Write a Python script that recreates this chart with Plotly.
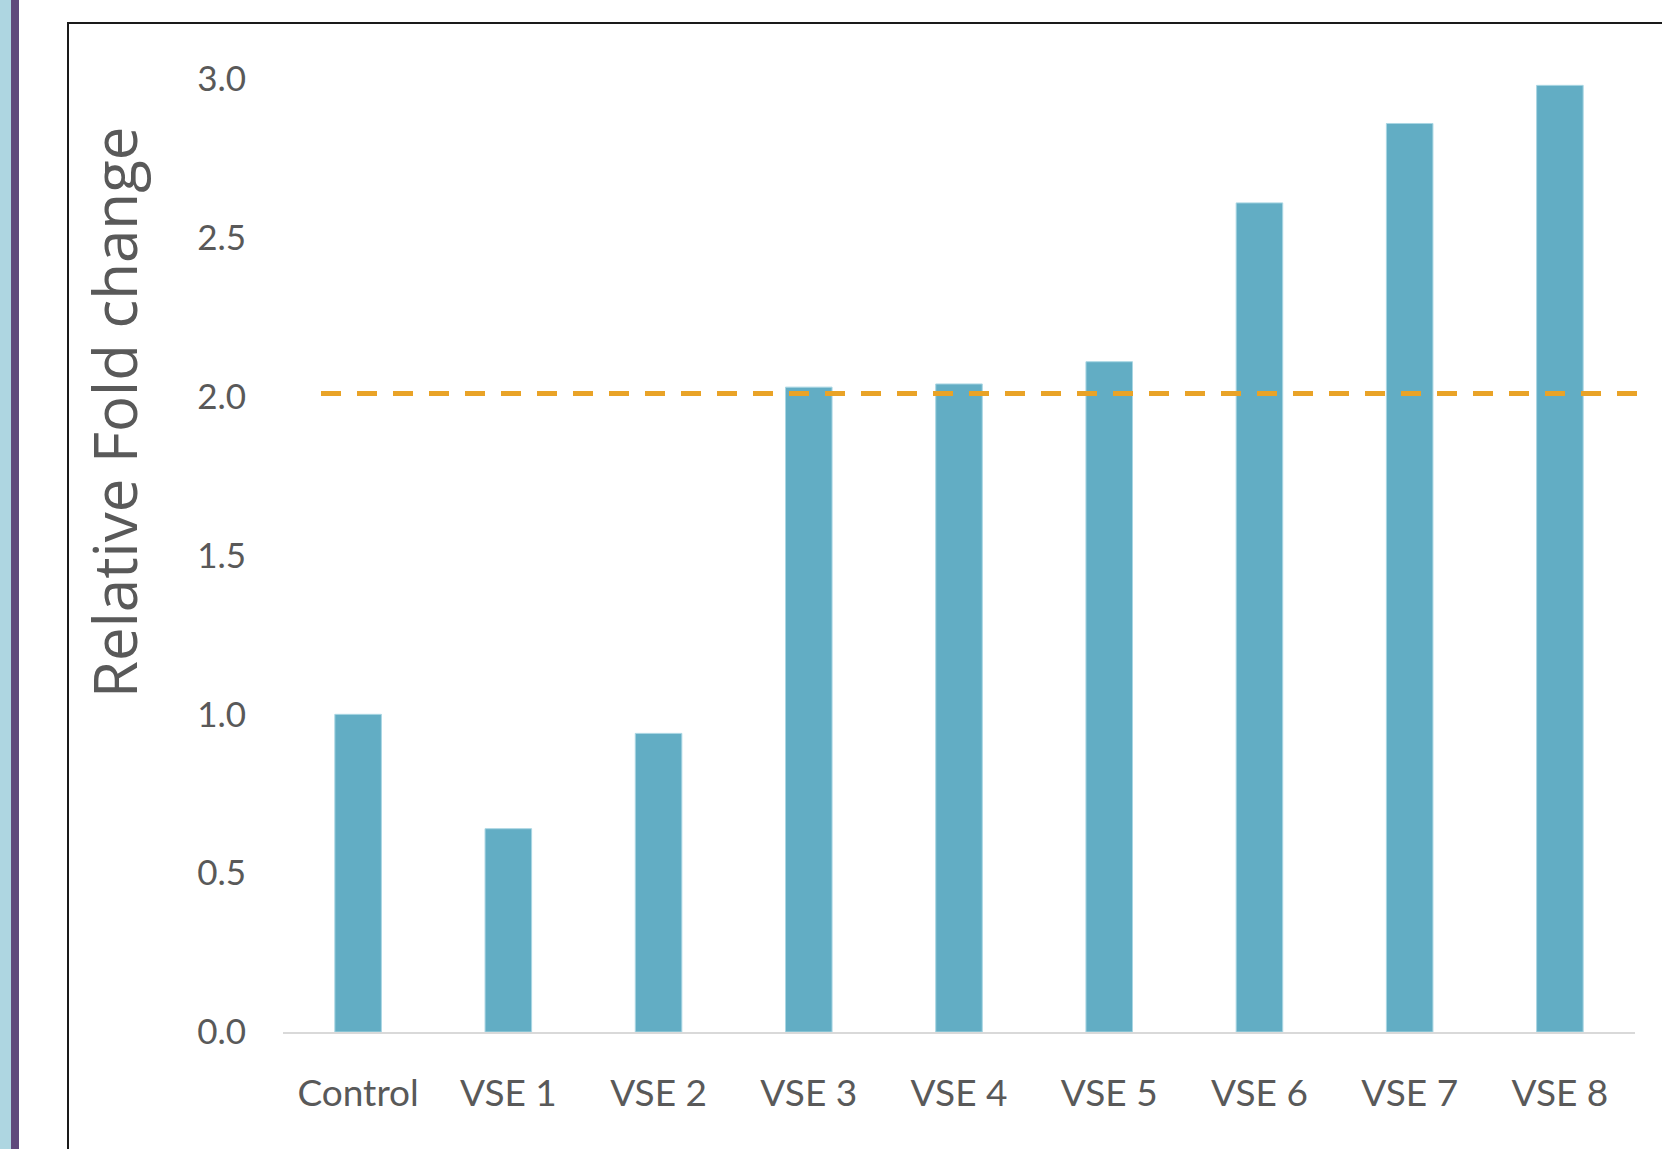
import plotly.graph_objects as go

# Relative fold change per sample
categories = ["Control", "VSE 1", "VSE 2", "VSE 3", "VSE 4", "VSE 5", "VSE 6", "VSE 7", "VSE 8"]
fold_change = [1.0, 0.64, 0.94, 2.03, 2.04, 2.11, 2.61, 2.86, 2.98]
threshold = 2.01
y_ticks = [0.0, 0.5, 1.0, 1.5, 2.0, 2.5, 3.0]
y_tick_labels = ["0.0", "0.5", "1.0", "1.5", "2.0", "2.5", "3.0"]

W, H = 1662, 1149
L, R, T, B = 283, 27, 79, 117
pw, ph = W - L - R, H - T - B


def px_x(p):
    return (p - L) / pw


def px_y(p):
    return (H - B - p) / ph


fig = go.Figure()
fig.add_trace(go.Bar(
    x=categories,
    y=fold_change,
    width=0.31,
    marker=dict(color="#62adc4", line=dict(color="#a9d6e3", width=1)),
    showlegend=False,
))

shapes = [
    # side strips
    dict(type="rect", xref="paper", yref="paper",
         x0=px_x(0), x1=px_x(11), y0=px_y(H + 5), y1=px_y(-5),
         fillcolor="#aed6e1", line=dict(width=0), layer="below"),
    dict(type="rect", xref="paper", yref="paper",
         x0=px_x(11), x1=px_x(19), y0=px_y(H + 5), y1=px_y(-5),
         fillcolor="#604a7c", line=dict(width=0), layer="below"),
    # chart frame
    dict(type="rect", xref="paper", yref="paper",
         x0=px_x(68), x1=px_x(W + 20), y0=px_y(H + 20), y1=px_y(23),
         fillcolor="rgba(0,0,0,0)", line=dict(color="#1a1a1a", width=2)),
    # threshold line
    dict(type="line", xref="paper", yref="y",
         x0=px_x(321), x1=px_x(1640), y0=threshold, y1=threshold,
         line=dict(color="#e9a327", width=5, dash="20px,16px")),
]

fig.update_layout(
    width=W, height=H,
    margin=dict(l=L, r=R, t=T, b=B),
    paper_bgcolor="white",
    plot_bgcolor="white",
    bargap=0.69,
    shapes=shapes,
    font=dict(family="Lato, Open Sans, sans-serif", color="#595959"),
    xaxis=dict(
        type="category",
        showline=True, linecolor="#d9d9d9", linewidth=2,
        showgrid=False, ticks="", zeroline=False,
        tickfont=dict(family="Lato", size=37, color="#595959"),
        ticklabelstandoff=28,
    ),
    yaxis=dict(
        range=[0, 3.0],
        tickvals=y_ticks, ticktext=y_tick_labels,
        showgrid=False, showline=False, zeroline=False, ticks="",
        tickfont=dict(family="Lato", size=35, color="#595959"),
        ticklabelstandoff=36,
    ),
    annotations=[
        dict(text="Relative Fold change", xref="paper", yref="paper",
             x=px_x(114), y=px_y(413), textangle=-90, showarrow=False,
             xanchor="center", yanchor="middle",
             font=dict(family="Open Sans", size=60, color="#595959")),
    ],
)

fig.write_html("out.html")
